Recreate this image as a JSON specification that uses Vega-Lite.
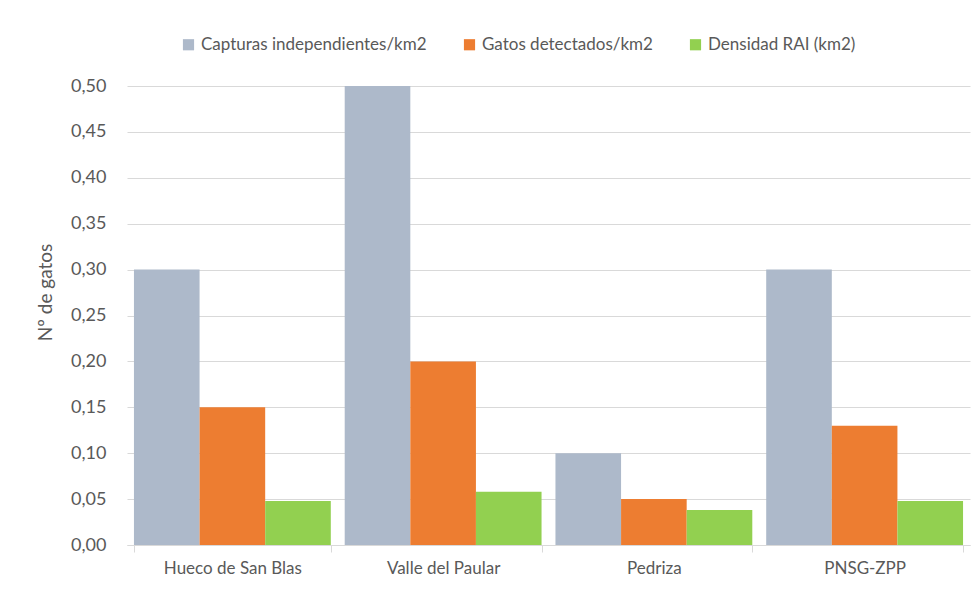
{
  "$schema": "https://vega.github.io/schema/vega-lite/v6.json",
  "width": 843,
  "height": 459,
  "autosize": "none",
  "padding": {"left": 127, "top": 86, "right": 9, "bottom": 45},
  "background": "white",
  "data": {
    "values": [
      {"zona": "Hueco de San Blas", "serie": "Capturas independientes/km2", "valor": 0.30},
      {"zona": "Hueco de San Blas", "serie": "Gatos detectados/km2", "valor": 0.15},
      {"zona": "Hueco de San Blas", "serie": "Densidad RAI (km2)", "valor": 0.048},
      {"zona": "Valle del Paular", "serie": "Capturas independientes/km2", "valor": 0.50},
      {"zona": "Valle del Paular", "serie": "Gatos detectados/km2", "valor": 0.20},
      {"zona": "Valle del Paular", "serie": "Densidad RAI (km2)", "valor": 0.058},
      {"zona": "Pedriza", "serie": "Capturas independientes/km2", "valor": 0.10},
      {"zona": "Pedriza", "serie": "Gatos detectados/km2", "valor": 0.05},
      {"zona": "Pedriza", "serie": "Densidad RAI (km2)", "valor": 0.038},
      {"zona": "PNSG-ZPP", "serie": "Capturas independientes/km2", "valor": 0.30},
      {"zona": "PNSG-ZPP", "serie": "Gatos detectados/km2", "valor": 0.13},
      {"zona": "PNSG-ZPP", "serie": "Densidad RAI (km2)", "valor": 0.048}
    ]
  },
  "mark": {"type": "bar"},
  "encoding": {
    "x": {
      "field": "zona",
      "type": "nominal",
      "sort": null,
      "scale": {"paddingInner": 0.066, "paddingOuter": 0.033},
      "axis": {
        "title": null,
        "labelAngle": 0,
        "tickBand": "extent",
        "ticks": true,
        "tickSize": 7,
        "tickColor": "#D9D9D9",
        "domainColor": "#D9D9D9",
        "grid": false,
        "labelPadding": 8,
        "labelFontSize": 17,
        "labelColor": "#595959",
        "labelFont": "Lato"
      }
    },
    "xOffset": {
      "field": "serie",
      "type": "nominal",
      "sort": null,
      "scale": {"paddingInner": 0, "paddingOuter": 0}
    },
    "y": {
      "field": "valor",
      "type": "quantitative",
      "scale": {"domain": [0, 0.5]},
      "axis": {
        "values": [0, 0.05, 0.1, 0.15, 0.2, 0.25, 0.3, 0.35, 0.4, 0.45, 0.5],
        "labelExpr": "replace(format(datum.value, '.2f'), '.', ',')",
        "title": "Nº de gatos",
        "titleFont": "Lato",
        "titleFontSize": 19,
        "titleFontWeight": "normal",
        "titleColor": "#595959",
        "titleX": -82,
        "titleY": 206,
        "titleAngle": -90,
        "titleAlign": "center",
        "titleBaseline": "middle",
        "domain": false,
        "ticks": false,
        "labelPadding": 21,
        "labelFontSize": 18,
        "labelColor": "#595959",
        "labelFont": "Lato",
        "gridColor": "#D9D9D9"
      }
    },
    "color": {
      "field": "serie",
      "type": "nominal",
      "sort": null,
      "scale": {
        "domain": ["Capturas independientes/km2", "Gatos detectados/km2", "Densidad RAI (km2)"],
        "range": ["#ADB9CA", "#ED7D31", "#92D050"]
      },
      "legend": {
        "title": null,
        "orient": "none",
        "direction": "horizontal",
        "legendX": 53,
        "legendY": -50,
        "symbolType": "square",
        "symbolSize": 125,
        "symbolStrokeWidth": 0,
        "labelFont": "Lato",
        "labelFontSize": 17,
        "labelColor": "#595959",
        "labelOffset": 4,
        "columnPadding": 34,
        "labelLimit": 400
      }
    }
  },
  "config": {
    "view": {"stroke": null}
  }
}
